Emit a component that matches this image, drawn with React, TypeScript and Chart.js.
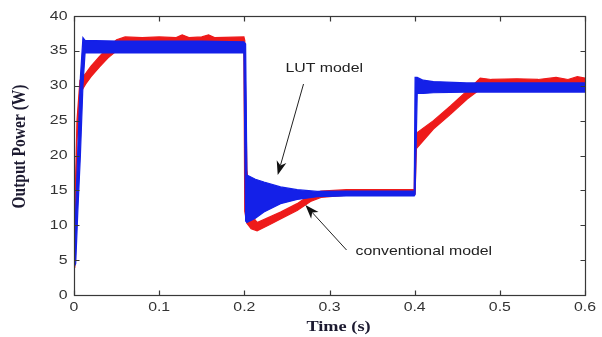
import React, { useEffect, useRef } from "react";
import { Chart, registerables } from "chart.js";

Chart.register(...registerables);

// ---- data ----
const xTicks = [0, 0.1, 0.2, 0.3, 0.4, 0.5, 0.6];
const yTicks = [0, 5, 10, 15, 20, 25, 30, 35, 40];
const xTitle = "Time (s)";
const yTitle = "Output Power (W)";

// LUT model (blue): envelope of the ripple band
const tBlue = [0, 0.002, 0.0045, 0.0075, 0.0105, 0.013, 0.05, 0.1, 0.15, 0.1995, 0.2015, 0.203, 0.2065, 0.213, 0.223, 0.2425, 0.262, 0.2855, 0.32, 0.36, 0.3995, 0.4005, 0.403, 0.41, 0.422, 0.461, 0.5, 0.55, 0.6];
const blueUpper = [4.5, 12, 21, 31.2, 36.9, 36.5, 36.4, 36.4, 36.4, 36.3, 36.0, 17.2, 17.0, 16.6, 16.2, 15.5, 15.1, 14.85, 14.9, 14.9, 14.9, 31.2, 31.2, 30.8, 30.6, 30.4, 30.4, 30.4, 30.4];
const blueLower = [4.0, 4.5, 12, 20, 30, 34.7, 34.7, 34.7, 34.7, 34.7, 10.6, 10.4, 10.6, 11.0, 11.9, 13.1, 13.7, 14.1, 14.2, 14.2, 14.2, 14.4, 28.9, 28.9, 29.0, 29.1, 29.1, 29.1, 29.1];

// conventional model (red): envelope of the ripple band
const tRed = [0, 0.001, 0.0035, 0.007, 0.01, 0.014, 0.02, 0.03, 0.04, 0.05, 0.06, 0.08, 0.1, 0.12, 0.127, 0.135, 0.15, 0.158, 0.165, 0.1995, 0.2005, 0.203, 0.208, 0.215, 0.23, 0.2425, 0.262, 0.2777, 0.29, 0.32, 0.36, 0.3995, 0.4005, 0.402, 0.422, 0.442, 0.4617, 0.477, 0.49, 0.52, 0.545, 0.566, 0.58, 0.591, 0.6];
const redUpper = [5, 12, 25, 30.8, 31.2, 31.8, 32.8, 34.2, 35.5, 36.6, 37.0, 36.9, 37.0, 36.9, 37.3, 36.9, 37.0, 37.3, 36.9, 37.0, 36.5, 18, 11.5, 10.4, 11.2, 11.9, 13.1, 14.4, 14.9, 15.1, 15.1, 15.1, 23.2, 23.2, 25.0, 27.1, 29.3, 31.1, 30.9, 31.0, 30.9, 31.2, 30.9, 31.3, 31.1];
const redLower = [4, 4.3, 22, 29.3, 29.5, 30.3, 31.3, 32.7, 34.0, 35.0, 35.2, 35.0, 35.0, 35.0, 35.0, 35.0, 35.0, 35.0, 35.0, 35.0, 12, 10.3, 9.5, 9.2, 10.1, 10.9, 12.1, 13.4, 14.0, 14.3, 14.3, 14.3, 14.5, 21.0, 23.8, 25.9, 28.1, 29.5, 29.4, 29.4, 29.4, 29.4, 29.4, 29.4, 29.4];

// annotations (in data units)
const lutLabel = { text: "LUT model", t: 0.2483, v: 32.5 };
const lutArrow = { t1: 0.2695, v1: 30.25, t2: 0.2392, v2: 17.2 };
const convLabel = { text: "conventional model", t: 0.3305, v: 6.3 };
const convArrow = { t1: 0.320, v1: 6.45, t2: 0.2717, v2: 12.9 };

const BLUE = "#1420e8";
const RED = "#ee1a1a";
const AXIS = "#383838";
const SX = 1.22; // horizontal stretch of the reference text

function drawText(ctx: CanvasRenderingContext2D, s: string, x: number, y: number, font: string, color: string, align: CanvasTextAlign) {
  ctx.save();
  ctx.translate(x, y);
  ctx.scale(SX, 1);
  ctx.font = font;
  ctx.fillStyle = color;
  ctx.textAlign = align;
  ctx.textBaseline = "middle";
  ctx.fillText(s, 0, 0);
  ctx.restore();
}

function drawArrow(ctx: CanvasRenderingContext2D, x1: number, y1: number, x2: number, y2: number) {
  const ang = Math.atan2(y2 - y1, x2 - x1);
  const L = 14, W = 5, N = 10;
  const cos = Math.cos(ang), sin = Math.sin(ang);
  ctx.save();
  ctx.strokeStyle = "#222";
  ctx.fillStyle = "#111";
  ctx.lineWidth = 1;
  ctx.beginPath();
  ctx.moveTo(x1, y1);
  ctx.lineTo(x2 - cos * N, y2 - sin * N);
  ctx.stroke();
  ctx.beginPath();
  ctx.moveTo(x2, y2);
  ctx.lineTo(x2 - cos * L - sin * W, y2 - sin * L + cos * W);
  ctx.lineTo(x2 - cos * N, y2 - sin * N);
  ctx.lineTo(x2 - cos * L + sin * W, y2 - sin * L - cos * W);
  ctx.closePath();
  ctx.fill();
  ctx.restore();
}

const decorPlugin = {
  id: "decor",
  afterDraw(chart: any) {
    const { ctx, chartArea: ca, scales } = chart;
    const x = scales.x, y = scales.y;
    const L = Math.round(ca.left) + 0.5, R = Math.round(ca.right) + 0.5;
    const T = Math.round(ca.top) + 0.5, B = Math.round(ca.bottom) + 0.5;
    ctx.save();
    ctx.strokeStyle = AXIS;
    ctx.lineWidth = 1.2;
    ctx.strokeRect(L, T, R - L, B - T);
    ctx.beginPath();
    for (const v of xTicks) {
      const px = Math.round(x.getPixelForValue(v)) + 0.5;
      ctx.moveTo(px, B); ctx.lineTo(px, B - 5);
      ctx.moveTo(px, T); ctx.lineTo(px, T + 5);
    }
    for (const v of yTicks) {
      const py = Math.round(y.getPixelForValue(v)) + 0.5;
      ctx.moveTo(L, py); ctx.lineTo(L + 5, py);
      ctx.moveTo(R, py); ctx.lineTo(R - 5, py);
    }
    ctx.stroke();
    ctx.restore();

    const tickFont = '13px "Liberation Sans", Arial, sans-serif';
    for (const v of xTicks) {
      drawText(ctx, String(v), x.getPixelForValue(v), B + 12, tickFont, "#333", "center");
    }
    for (const v of yTicks) {
      ctx.save();
      ctx.translate(L - 7, y.getPixelForValue(v));
      ctx.scale(SX, 1);
      ctx.font = tickFont;
      ctx.fillStyle = "#333";
      ctx.textAlign = "right";
      ctx.textBaseline = "middle";
      ctx.fillText(String(v), 0, 0);
      ctx.restore();
    }

    // axis titles
    const titleFont = 'bold 15px "Liberation Serif", "Times New Roman", serif';
    drawText(ctx, xTitle, (ca.left + ca.right) / 2 + 9, 327, titleFont, "#1c1a30", "center");
    ctx.save();
    ctx.translate(20, (ca.top + ca.bottom) / 2 - 9);
    ctx.rotate(-Math.PI / 2);
    ctx.scale(1, SX);
    ctx.font = 'bold 15.5px "Liberation Serif", "Times New Roman", serif';
    ctx.fillStyle = "#1c1a30";
    ctx.textAlign = "center";
    ctx.textBaseline = "middle";
    ctx.fillText(yTitle, 0, 0);
    ctx.restore();

    // annotations
    const annFont = '13px "Liberation Sans", Arial, sans-serif';
    drawText(ctx, lutLabel.text, x.getPixelForValue(lutLabel.t), y.getPixelForValue(lutLabel.v), annFont, "#222", "left");
    drawText(ctx, convLabel.text, x.getPixelForValue(convLabel.t), y.getPixelForValue(convLabel.v), annFont, "#222", "left");
    drawArrow(ctx, x.getPixelForValue(lutArrow.t1), y.getPixelForValue(lutArrow.v1), x.getPixelForValue(lutArrow.t2), y.getPixelForValue(lutArrow.v2));
    drawArrow(ctx, x.getPixelForValue(convArrow.t1), y.getPixelForValue(convArrow.v1), x.getPixelForValue(convArrow.t2), y.getPixelForValue(convArrow.v2));
  },
};

function pts(t: number[], v: number[]) {
  return t.map((tt, i) => ({ x: tt, y: v[i] }));
}

export default function App() {
  const ref = useRef<HTMLCanvasElement | null>(null);
  useEffect(() => {
    document.body.style.margin = "0";
    const canvas = ref.current;
    if (!canvas) return;
    const line = (label: string, data: any[], color: string, fill: any, order: number) => ({
      label,
      data,
      borderColor: color,
      backgroundColor: color,
      borderWidth: 1.2,
      pointRadius: 0,
      tension: 0,
      fill,
      order,
    });
    const chart = new Chart(canvas, {
      type: "line",
      data: {
        datasets: [
          line("LUT upper", pts(tBlue, blueUpper), BLUE, false, 1),
          line("LUT lower", pts(tBlue, blueLower), BLUE, "-1", 1),
          line("conventional upper", pts(tRed, redUpper), RED, false, 2),
          line("conventional lower", pts(tRed, redLower), RED, "-1", 2),
        ],
      },
      options: {
        animation: false,
        responsive: false,
        devicePixelRatio: 1,
        layout: { padding: { top: 16, right: 17, left: 0, bottom: 0 } },
        plugins: { legend: { display: false }, tooltip: { enabled: false } },
        scales: {
          x: {
            type: "linear",
            min: 0,
            max: 0.6,
            grid: { display: false },
            border: { display: false },
            ticks: { display: false, stepSize: 0.1 },
            afterFit: (s: any) => { s.height = 42; },
          },
          y: {
            type: "linear",
            min: 0,
            max: 40,
            grid: { display: false },
            border: { display: false },
            ticks: { display: false, stepSize: 5 },
            afterFit: (s: any) => { s.width = 74; },
          },
        },
      },
      plugins: [decorPlugin],
    } as any);
    return () => chart.destroy();
  }, []);
  return (
    <div style={{ width: 602, height: 337, background: "#fff" }}>
      <canvas ref={ref} width={602} height={337} style={{ display: "block" }} />
    </div>
  );
}
